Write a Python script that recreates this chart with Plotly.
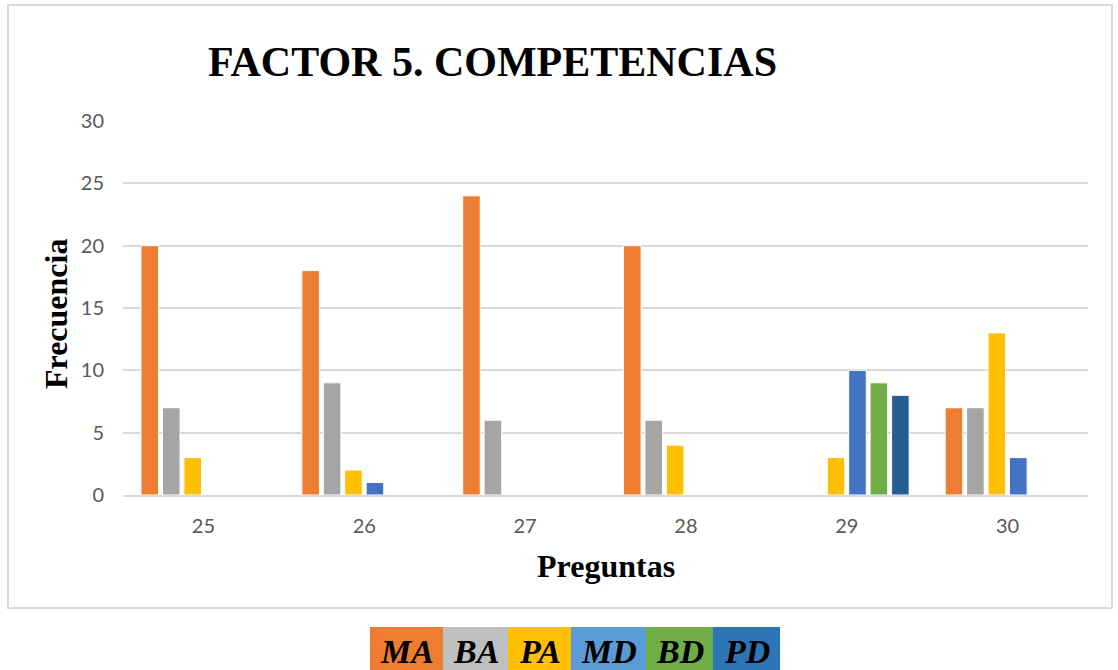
import plotly.graph_objects as go

categories = ["25", "26", "27", "28", "29", "30"]
series_names = ["MA", "BA", "PA", "MD", "BD", "PD"]
MA = [20, 18, 24, 20, 0, 7]
BA = [7, 9, 6, 6, 0, 7]
PA = [3, 2, 0, 4, 3, 13]
MD = [0, 1, 0, 0, 10, 3]
BD = [0, 0, 0, 0, 9, 0]
PD = [0, 0, 0, 0, 8, 0]
series_values = [MA, BA, PA, MD, BD, PD]
y_ticks = [0, 5, 10, 15, 20, 25, 30]

bar_colors = ["#ED7D31", "#A5A5A5", "#FFC000", "#4472C4", "#70AD47", "#255E91"]
legend_colors = ["#ED7D31", "#BFBFBF", "#FFC000", "#5B9BD5", "#70AD47", "#2E75B6"]

W, H = 1118, 670
L, R, T, B = 123, 1088, 121, 495  # plot area in px

def xp(px):
    return (px - L) / (R - L)

def yp(py):
    return (B - py) / (B - T)

fig = go.Figure()
for name, vals, col in zip(series_names, series_values, bar_colors):
    fig.add_trace(go.Bar(
        x=categories, y=vals, name=name,
        marker=dict(color=col, line=dict(color="white", width=1)),
        showlegend=False,
    ))

shapes = [
    dict(type="rect", xref="paper", yref="paper",
         x0=xp(8), x1=xp(1112), y0=yp(608), y1=yp(5),
         line=dict(color="#D9D9D9", width=2), fillcolor="rgba(0,0,0,0)", layer="below"),
]
annotations = [
    dict(text="<b>FACTOR 5. COMPETENCIAS</b>", xref="paper", yref="paper",
         x=xp(492), y=yp(62), showarrow=False, xanchor="center", yanchor="middle",
         font=dict(family="Liberation Serif", size=42, color="black")),
    dict(text="<b>Frecuencia</b>", xref="paper", yref="paper",
         x=xp(56), y=yp(314), showarrow=False, textangle=-90,
         xanchor="center", yanchor="middle",
         font=dict(family="Liberation Serif", size=32, color="black")),
    dict(text="<b>Preguntas</b>", xref="paper", yref="paper",
         x=xp(606), y=yp(566), showarrow=False, xanchor="center", yanchor="middle",
         font=dict(family="Liberation Serif", size=32, color="black")),
]

edges = [370, 443, 508, 571, 646, 713, 780]
for i, (name, col) in enumerate(zip(series_names, legend_colors)):
    x0, x1 = edges[i], edges[i + 1]
    shapes.append(dict(type="rect", xref="paper", yref="paper",
                       x0=xp(x0), x1=xp(x1), y0=yp(672), y1=yp(627),
                       line=dict(width=0), fillcolor=col))
    annotations.append(dict(text="<b><i>" + name + "</i></b>", xref="paper", yref="paper",
                            x=xp((x0 + x1) / 2), y=yp(651), showarrow=False,
                            xanchor="center", yanchor="middle",
                            font=dict(family="Liberation Serif", size=34, color="black")))

fig.update_layout(
    width=W, height=H,
    margin=dict(l=L, r=W - R, t=T, b=H - B),
    paper_bgcolor="white", plot_bgcolor="white",
    barmode="group", bargap=0.2, bargroupgap=0.18,
    shapes=shapes, annotations=annotations,
    xaxis=dict(type="category", showgrid=False, zeroline=False,
               showline=True, linecolor="#D9D9D9", linewidth=1.5,
               ticks="", ticklabelstandoff=12,
               tickfont=dict(family="Lato", size=20, color="#595959")),
    yaxis=dict(range=[0, 30], tickvals=y_ticks, showgrid=True, gridcolor="#D9D9D9",
               gridwidth=1.5, zeroline=False, showline=False, ticks="",
               ticklabelstandoff=18,
               tickfont=dict(family="Lato", size=20, color="#595959")),
)

fig.write_html("out.html", config={"displayModeBar": False},
               post_script="document.body.style.margin='0px';document.body.style.overflow='hidden';")
